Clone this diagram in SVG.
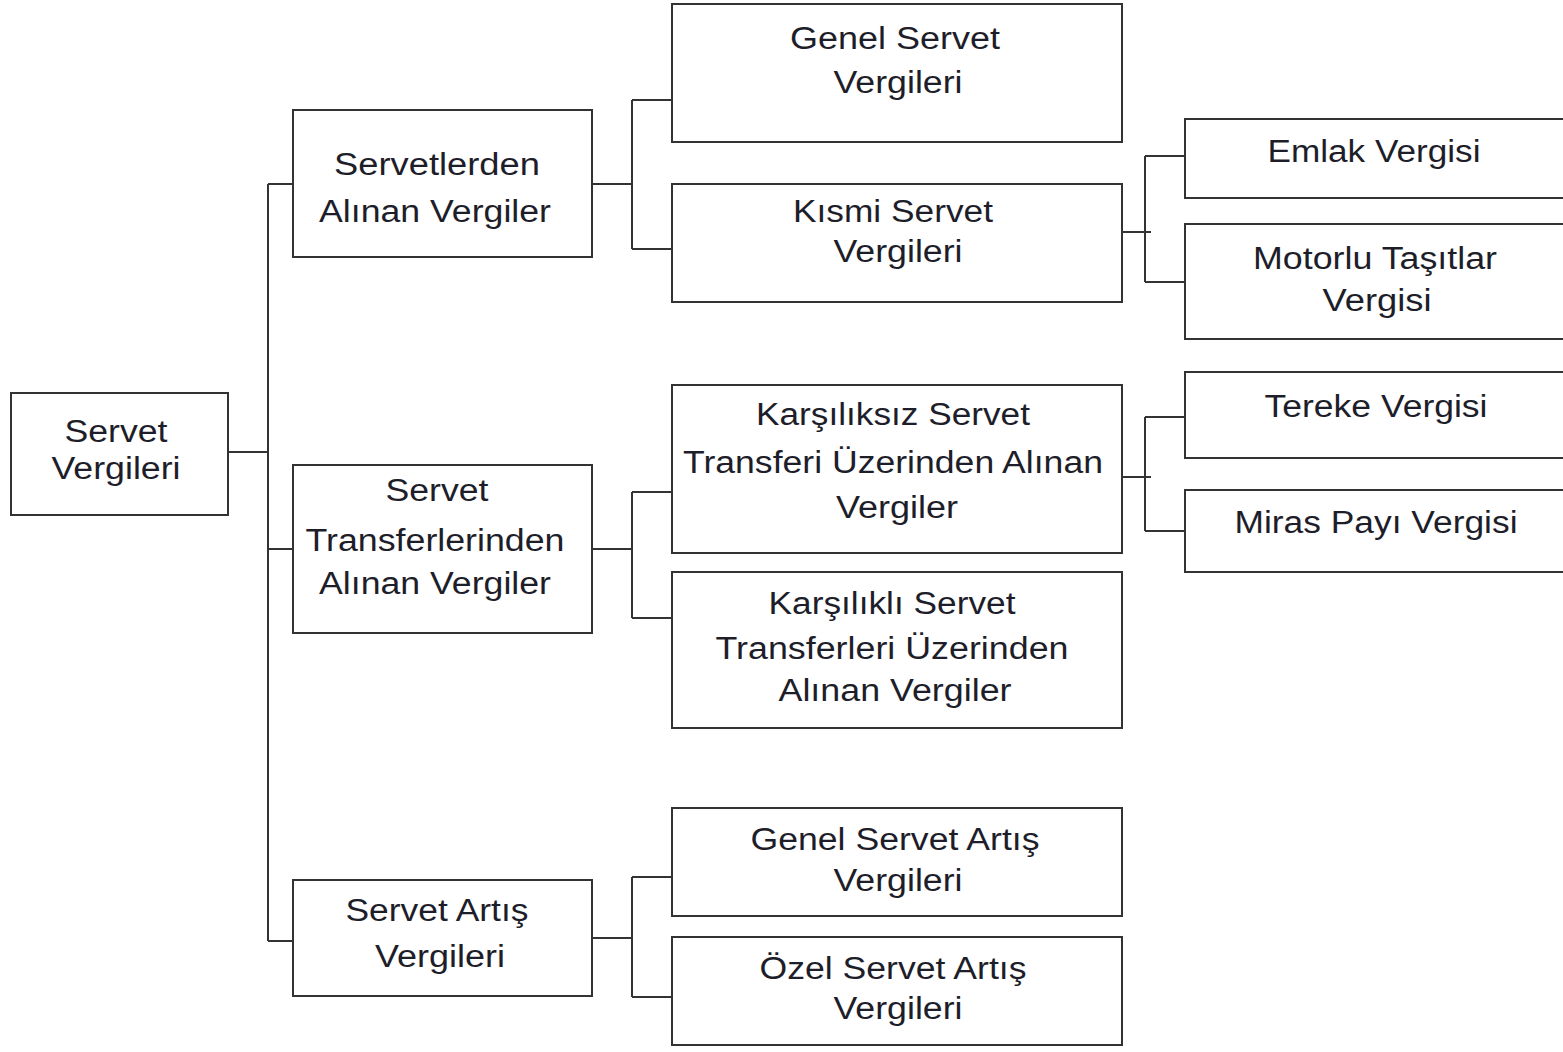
<svg xmlns="http://www.w3.org/2000/svg" width="1563" height="1052" viewBox="0 0 1563 1052">
<style>
.box{fill:#fff;stroke:#333;stroke-width:2}
.c{fill:none;stroke:#333;stroke-width:2}
text{font-family:"Liberation Sans",Arial,sans-serif;font-size:31px;fill:#1e1e2a;text-anchor:middle}
</style>
<rect width="1563" height="1052" fill="#fff"/>
<g id="connectors">
<path class="c" d="M228 452H268M268 184V941M268 184H293M268 549H293M268 941H293"/>
<path class="c" d="M592 184H632M632 100V249M632 100H672M632 249H672"/>
<path class="c" d="M592 549H632M632 492V618M632 492H672M632 618H672"/>
<path class="c" d="M592 938H632M632 877V997M632 877H672M632 997H672"/>
<path class="c" d="M1122 232H1151M1145 156V282M1145 156H1185M1145 282H1185"/>
<path class="c" d="M1122 477H1151M1145 417V531M1145 417H1185M1145 531H1185"/>
</g>
<g id="servet-vergileri">
<rect class="box" x="11" y="393" width="217" height="122"/>
<text x="116" y="442" textLength="103" lengthAdjust="spacingAndGlyphs">Servet</text>
<text x="116" y="479" textLength="129" lengthAdjust="spacingAndGlyphs">Vergileri</text>
</g>
<g id="servetlerden">
<rect class="box" x="293" y="110" width="299" height="147"/>
<text x="437" y="175" textLength="206" lengthAdjust="spacingAndGlyphs">Servetlerden</text>
<text x="435" y="222" textLength="232" lengthAdjust="spacingAndGlyphs">Alınan Vergiler</text>
</g>
<g id="servet-transferlerinden">
<rect class="box" x="293" y="465" width="299" height="168"/>
<text x="437" y="501" textLength="103" lengthAdjust="spacingAndGlyphs">Servet</text>
<text x="435" y="551" textLength="259" lengthAdjust="spacingAndGlyphs">Transferlerinden</text>
<text x="435" y="594" textLength="232" lengthAdjust="spacingAndGlyphs">Alınan Vergiler</text>
</g>
<g id="servet-artis">
<rect class="box" x="293" y="880" width="299" height="116"/>
<text x="437" y="921" textLength="183" lengthAdjust="spacingAndGlyphs">Servet Artış</text>
<text x="440" y="967" textLength="130" lengthAdjust="spacingAndGlyphs">Vergileri</text>
</g>
<g id="genel-servet">
<rect class="box" x="672" y="4" width="450" height="138"/>
<text x="895" y="49" textLength="210" lengthAdjust="spacingAndGlyphs">Genel Servet</text>
<text x="898" y="93" textLength="129" lengthAdjust="spacingAndGlyphs">Vergileri</text>
</g>
<g id="kismi-servet">
<rect class="box" x="672" y="184" width="450" height="118"/>
<text x="893" y="222" textLength="200" lengthAdjust="spacingAndGlyphs">Kısmi Servet</text>
<text x="898" y="262" textLength="129" lengthAdjust="spacingAndGlyphs">Vergileri</text>
</g>
<g id="karsiliksiz">
<rect class="box" x="672" y="385" width="450" height="168"/>
<text x="893" y="425" textLength="274" lengthAdjust="spacingAndGlyphs">Karşılıksız Servet</text>
<text x="893" y="473" textLength="420" lengthAdjust="spacingAndGlyphs">Transferi Üzerinden Alınan</text>
<text x="897" y="518" textLength="122" lengthAdjust="spacingAndGlyphs">Vergiler</text>
</g>
<g id="karsilikli">
<rect class="box" x="672" y="572" width="450" height="156"/>
<text x="892" y="614" textLength="247" lengthAdjust="spacingAndGlyphs">Karşılıklı Servet</text>
<text x="892" y="659" textLength="353" lengthAdjust="spacingAndGlyphs">Transferleri Üzerinden</text>
<text x="895" y="701" textLength="233" lengthAdjust="spacingAndGlyphs">Alınan Vergiler</text>
</g>
<g id="genel-servet-artis">
<rect class="box" x="672" y="808" width="450" height="108"/>
<text x="895" y="850" textLength="289" lengthAdjust="spacingAndGlyphs">Genel Servet Artış</text>
<text x="898" y="891" textLength="129" lengthAdjust="spacingAndGlyphs">Vergileri</text>
</g>
<g id="ozel-servet-artis">
<rect class="box" x="672" y="937" width="450" height="108"/>
<text x="893" y="979" textLength="267" lengthAdjust="spacingAndGlyphs">Özel Servet Artış</text>
<text x="898" y="1019" textLength="129" lengthAdjust="spacingAndGlyphs">Vergileri</text>
</g>
<g id="emlak">
<rect class="box" x="1185" y="119" width="400" height="79"/>
<text x="1374" y="162" textLength="213" lengthAdjust="spacingAndGlyphs">Emlak Vergisi</text>
</g>
<g id="motorlu">
<rect class="box" x="1185" y="224" width="400" height="115"/>
<text x="1375" y="269" textLength="244" lengthAdjust="spacingAndGlyphs">Motorlu Taşıtlar</text>
<text x="1377" y="311" textLength="109" lengthAdjust="spacingAndGlyphs">Vergisi</text>
</g>
<g id="tereke">
<rect class="box" x="1185" y="372" width="400" height="86"/>
<text x="1376" y="417" textLength="223" lengthAdjust="spacingAndGlyphs">Tereke Vergisi</text>
</g>
<g id="miras">
<rect class="box" x="1185" y="490" width="400" height="82"/>
<text x="1376" y="533" textLength="283" lengthAdjust="spacingAndGlyphs">Miras Payı Vergisi</text>
</g>
</svg>
